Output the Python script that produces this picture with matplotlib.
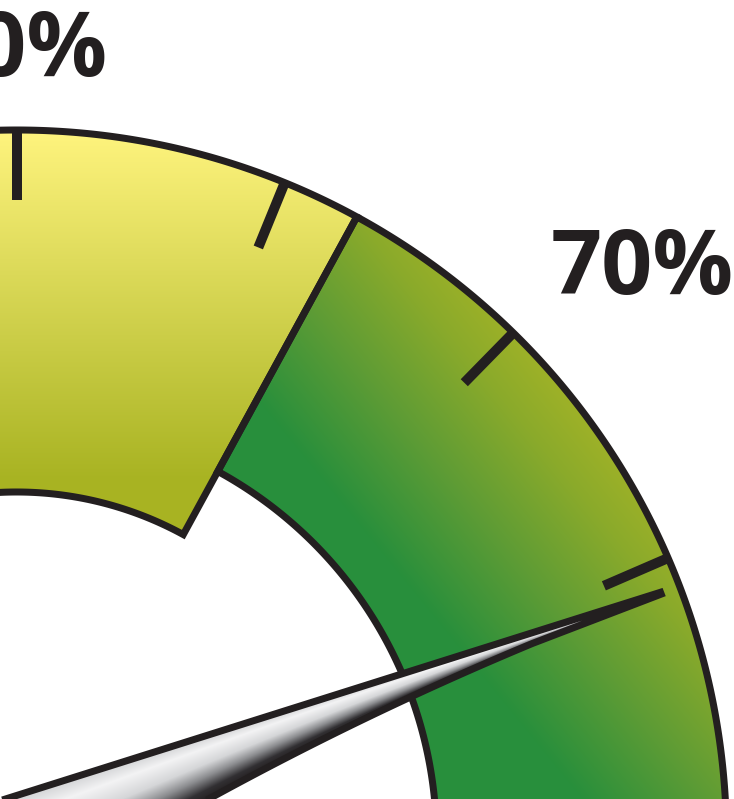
import numpy as np
import matplotlib
matplotlib.use("Agg")
import matplotlib.pyplot as plt
from matplotlib.patches import Polygon
from matplotlib.colors import to_rgb

# ---------------- data ----------------
segment_labels = ["Yellow", "Green"]
segment_from = [37.1, 62.9]
segment_to = [62.9, 100.0]
tick_values = [0, 10, 20, 30, 40, 50, 60, 70, 80, 90, 100]
label_values = [10, 30, 50, 70, 90]
label_texts = ["10%", "30%", "50%", "70%", "90%"]
needle_value = 81.1

# ---------------- layout / style ----------------
W, H = 734, 799
CX, CY = 16.5, 840.0
R_OUT = 710.0
SEG_R_IN = [348.0, 420.0]
TICK_R_IN = 640.0
LABEL_R = 764.0
DEG_PER_UNIT = 2.22
BLACK = "#231F20"
OUTLINE_LW = 7 * 0.72
TICK_LW = 10 * 0.72
NEEDLE_LEN = 690.0


def ang(v):
    return np.deg2rad((v - 50.0) * DEG_PER_UNIT)


def pt(r, a):
    return CX + r * np.sin(a), CY - r * np.cos(a)


def grad(F, pos, cols):
    rgb = np.array([to_rgb(c) for c in cols])
    out = np.empty(F.shape + (3,))
    for k in range(3):
        out[..., k] = np.interp(F, pos, rgb[:, k])
    return out


fig = plt.figure(figsize=(W / 100, H / 100), dpi=100)
ax = fig.add_axes([0, 0, 1, 1])
ax.set_xlim(0, W)
ax.set_ylim(H, 0)
ax.axis("off")

X, Y = np.meshgrid(np.arange(W) + 0.5, np.arange(H) + 0.5)

fields = [
    (Y, [130, 480], ["#FFF47E", "#A8B322"]),
    ((X - 290) * 0.776 - (Y - 440) * 0.631, [0, 100, 190, 270],
     ["#288F3C", "#5E9C35", "#8AAA2B", "#A8B526"]),
]


def ring(v0, v1, r_in, n=300):
    a = np.linspace(ang(v0), ang(v1), n)
    xo, yo = pt(R_OUT, a)
    xi, yi = pt(r_in, a[::-1])
    return np.column_stack([np.r_[xo, xi], np.r_[yo, yi]])


for i, name in enumerate(segment_labels):
    verts = ring(segment_from[i], segment_to[i], SEG_R_IN[i])
    F, pos, cols = fields[i]
    img = grad(F, pos, cols)
    im = ax.imshow(img, extent=(0, W, H, 0), interpolation="bilinear", zorder=1)
    clip = Polygon(verts, closed=True, fc="none", ec="none")
    ax.add_patch(clip)
    im.set_clip_path(clip)
    ax.add_patch(Polygon(verts, closed=True, fill=False, ec=BLACK,
                         lw=OUTLINE_LW, joinstyle="miter", zorder=3))

# ticks
for v in tick_values:
    a = ang(v)
    x0, y0 = pt(TICK_R_IN, a)
    x1, y1 = pt(R_OUT, a)
    ax.plot([x0, x1], [y0, y1], color=BLACK, lw=TICK_LW,
            solid_capstyle="butt", zorder=4)

# needle
a = ang(needle_value)
ux, uy = np.sin(a), -np.cos(a)
nx, ny = np.cos(a), np.sin(a)


def up_edge(s):
    return -(42.5 - 41.5 * s / NEEDLE_LEN)


def lo_edge(s):
    return np.maximum(1.5057e-4 * s ** 2 - 0.19476 * s + 62.63, 1.0)


s = np.linspace(-60, NEEDLE_LEN, 400)
upx = CX + s * ux + up_edge(s) * nx
upy = CY + s * uy + up_edge(s) * ny
lox = CX + s * ux + lo_edge(s) * nx
loy = CY + s * uy + lo_edge(s) * ny
nverts = np.column_stack([np.r_[upx, lox[::-1]], np.r_[upy, loy[::-1]]])

S = (X - CX) * ux + (Y - CY) * uy
N = (X - CX) * nx + (Y - CY) * ny
T = np.clip((N - up_edge(S)) / (lo_edge(S) - up_edge(S)), 0, 1)
nimg = grad(T, [0, 0.2, 0.45, 0.65, 0.85, 1.0],
            ["#D0D1D3", "#F3F3F4", "#D5D6D8", "#8C8D90", "#323033", "#231F20"])
nim = ax.imshow(nimg, extent=(0, W, H, 0), interpolation="bilinear", zorder=5)
nclip = Polygon(nverts, closed=True, fc="none", ec="none")
ax.add_patch(nclip)
nim.set_clip_path(nclip)
ax.add_patch(Polygon(nverts, closed=True, fill=False, ec=BLACK,
                     lw=OUTLINE_LW, joinstyle="miter", zorder=6))

# labels
for v, txt in zip(label_values, label_texts):
    a = ang(v)
    x, y = pt(LABEL_R, a)
    deg = np.rad2deg(a)
    ha = "center" if abs(deg) < 5 else ("left" if deg > 0 else "right")
    ax.text(x, y, txt, ha=ha, va="baseline", fontsize=64.5,
            fontfamily="Open Sans", fontweight="bold", color=BLACK,
            zorder=7, clip_on=True)

fig.savefig("out.png", dpi=100)
